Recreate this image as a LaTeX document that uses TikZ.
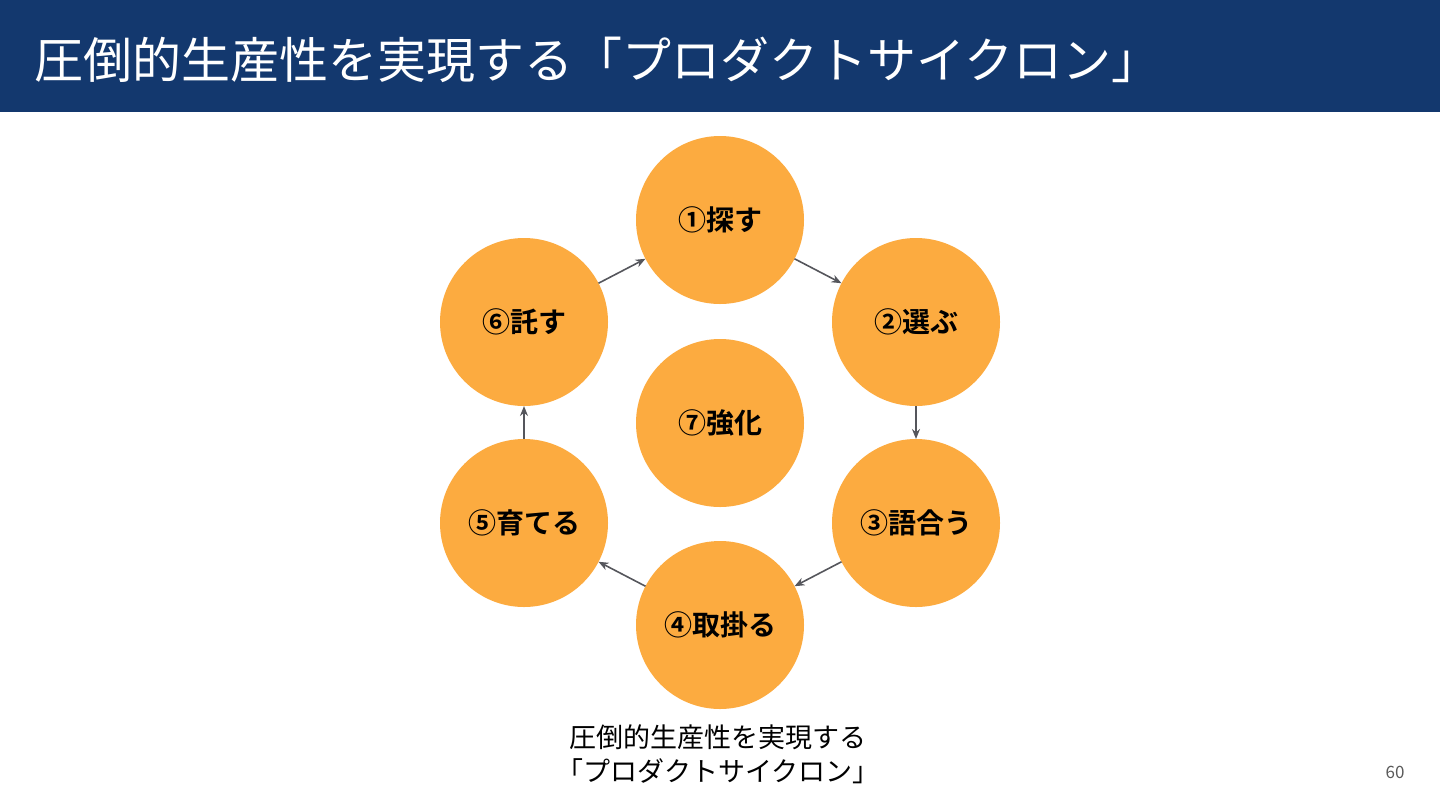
\documentclass[tikz,border=0pt]{standalone}
\usepackage{fontspec}
\usepackage{tikz}
\usetikzlibrary{arrows.meta}
\setmainfont{Noto Sans CJK JP}
\newfontfamily\cjkbold{Noto Sans CJK JP Bold}
\definecolor{barblue}{RGB}{19,56,110}
\definecolor{cycorange}{RGB}{252,171,64}
\definecolor{arrowgray}{RGB}{85,86,92}
\definecolor{numgray}{RGB}{90,90,90}

\begin{document}
\begin{tikzpicture}[x=0.5pt,y=-0.5pt,
    stage/.style={circle,fill=cycorange,minimum size=84pt,inner sep=0pt,outer sep=0pt,font=\cjkbold\fontsize{14}{16}\selectfont},
    flow/.style={-{Stealth[length=5pt,width=4pt]},arrowgray,line width=0.8pt}]
        \useasboundingbox (0,0) rectangle (1440,810);
        \fill[barblue] (0,0) rectangle (1440,112);
        \node[anchor=west,white,inner sep=0pt,font=\fontsize{24.5}{27}\selectfont] (title) at (34,60) {圧倒的生産性を実現する「プロダクトサイクロン」};
        \node[stage] (s1) at (720,220) {①探す};
        \node[stage] (s2) at (916,322) {②選ぶ};
        \node[stage] (s3) at (916,523) {③語合う};
        \node[stage] (s4) at (720,625) {④取掛る};
        \node[stage] (s5) at (524,523) {⑤育てる};
        \node[stage] (s6) at (524,322) {⑥託す};
        \node[stage] (s7) at (720,423) {⑦強化};
        \foreach \a/\b in {s1/s2,s2/s3,s3/s4,s4/s5,s5/s6,s6/s1}
            \draw[flow] (\a) -- (\b);
        \node[align=center,font=\fontsize{13.5}{17}\selectfont] (caption) at (718,754) {圧倒的生産性を実現する\\「プロダクトサイクロン」};
        \node[numgray,font=\fontsize{8.5}{10}\selectfont] (page) at (1395,772) {60};
      \end{tikzpicture}
\end{document}
